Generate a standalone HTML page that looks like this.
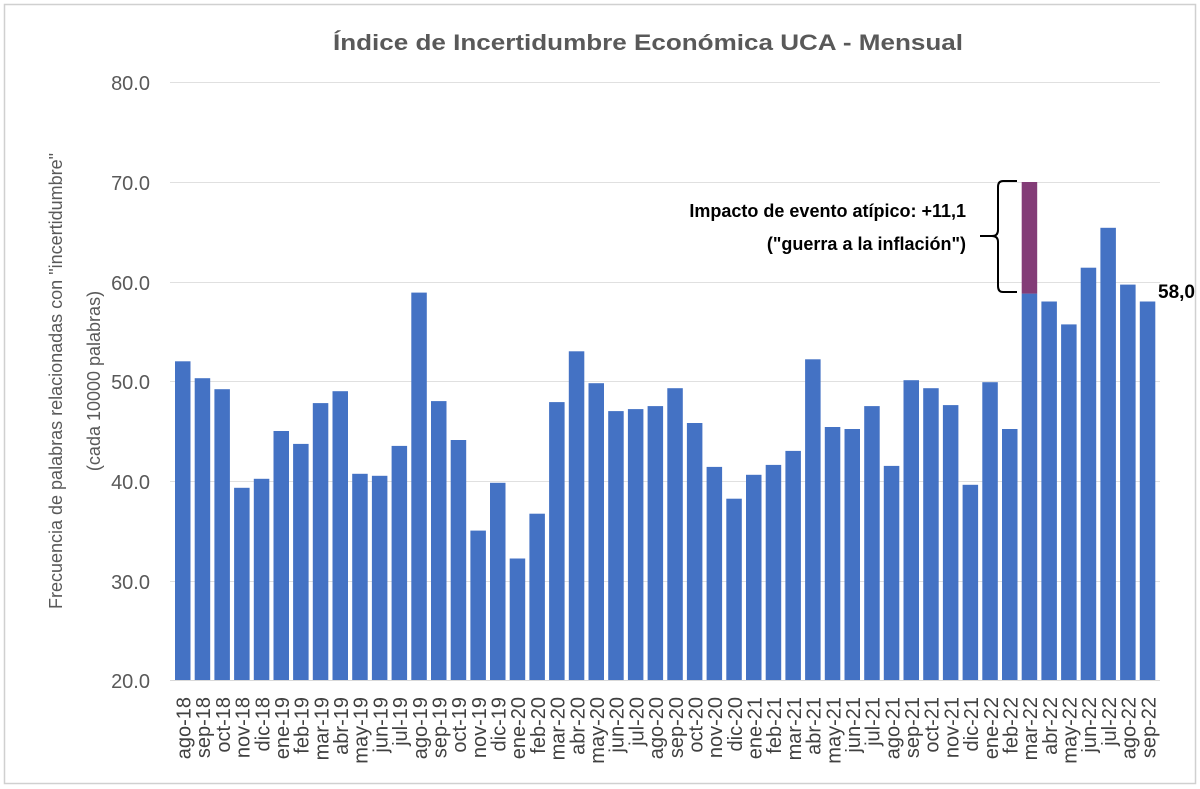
<!DOCTYPE html>
<html><head><meta charset="utf-8"><style>body{margin:0;background:#fff}svg{display:block}</style></head><body>
<svg width="1200" height="789" xmlns="http://www.w3.org/2000/svg" font-family="Liberation Sans, sans-serif">
<rect x="4.5" y="4.5" width="1191" height="779" fill="#fff" stroke="#d0d0d0" stroke-width="1.5"/>
<text x="648" y="50" text-anchor="middle" font-size="22" font-weight="bold" fill="#595959" textLength="630" lengthAdjust="spacingAndGlyphs">Índice de Incertidumbre Económica UCA - Mensual</text>
<g stroke="#e0e0e0" stroke-width="1">
<line x1="170" x2="1160" y1="82.5" y2="82.5"/><line x1="170" x2="1160" y1="182.5" y2="182.5"/><line x1="170" x2="1160" y1="282.5" y2="282.5"/><line x1="170" x2="1160" y1="381.5" y2="381.5"/><line x1="170" x2="1160" y1="481.5" y2="481.5"/><line x1="170" x2="1160" y1="581.5" y2="581.5"/>
</g>
<g font-size="20" fill="#595959" text-anchor="end">
<text x="150" y="90">80.0</text><text x="150" y="190">70.0</text><text x="150" y="290">60.0</text><text x="150" y="389">50.0</text><text x="150" y="489">40.0</text><text x="150" y="589">30.0</text><text x="150" y="688">20.0</text>
</g>
<text transform="translate(62,381) rotate(-90)" text-anchor="middle" font-size="18" fill="#595959">Frecuencia de palabras relacionadas con "incertidumbre"</text>
<text transform="translate(100,381) rotate(-90)" text-anchor="middle" font-size="18" fill="#595959">(cada 10000 palabras)</text>
<g fill="#4472c4">
<rect x="175.0" y="361.3" width="15.5" height="318.7"/>
<rect x="194.7" y="378.2" width="15.5" height="301.8"/>
<rect x="214.4" y="389.2" width="15.5" height="290.8"/>
<rect x="234.1" y="487.8" width="15.5" height="192.2"/>
<rect x="253.8" y="478.8" width="15.5" height="201.2"/>
<rect x="273.5" y="431.0" width="15.5" height="249.0"/>
<rect x="293.1" y="443.9" width="15.5" height="236.1"/>
<rect x="312.8" y="403.1" width="15.5" height="276.9"/>
<rect x="332.5" y="391.2" width="15.5" height="288.8"/>
<rect x="352.2" y="473.8" width="15.5" height="206.2"/>
<rect x="371.9" y="475.8" width="15.5" height="204.2"/>
<rect x="391.6" y="445.9" width="15.5" height="234.1"/>
<rect x="411.3" y="292.6" width="15.5" height="387.4"/>
<rect x="431.0" y="401.1" width="15.5" height="278.9"/>
<rect x="450.7" y="440.0" width="15.5" height="240.0"/>
<rect x="470.4" y="530.6" width="15.5" height="149.4"/>
<rect x="490.0" y="482.8" width="15.5" height="197.2"/>
<rect x="509.7" y="558.5" width="15.5" height="121.5"/>
<rect x="529.4" y="513.7" width="15.5" height="166.3"/>
<rect x="549.1" y="402.1" width="15.5" height="277.9"/>
<rect x="568.8" y="351.3" width="15.5" height="328.7"/>
<rect x="588.5" y="383.2" width="15.5" height="296.8"/>
<rect x="608.2" y="411.1" width="15.5" height="268.9"/>
<rect x="627.9" y="409.1" width="15.5" height="270.9"/>
<rect x="647.6" y="406.1" width="15.5" height="273.9"/>
<rect x="667.3" y="388.2" width="15.5" height="291.8"/>
<rect x="686.9" y="423.0" width="15.5" height="257.0"/>
<rect x="706.6" y="466.9" width="15.5" height="213.1"/>
<rect x="726.3" y="498.7" width="15.5" height="181.3"/>
<rect x="746.0" y="474.8" width="15.5" height="205.2"/>
<rect x="765.7" y="464.9" width="15.5" height="215.1"/>
<rect x="785.4" y="450.9" width="15.5" height="229.1"/>
<rect x="805.1" y="359.3" width="15.5" height="320.7"/>
<rect x="824.8" y="427.0" width="15.5" height="253.0"/>
<rect x="844.5" y="429.0" width="15.5" height="251.0"/>
<rect x="864.2" y="406.1" width="15.5" height="273.9"/>
<rect x="883.8" y="465.9" width="15.5" height="214.1"/>
<rect x="903.5" y="380.2" width="15.5" height="299.8"/>
<rect x="923.2" y="388.2" width="15.5" height="291.8"/>
<rect x="942.9" y="405.1" width="15.5" height="274.9"/>
<rect x="962.6" y="484.8" width="15.5" height="195.2"/>
<rect x="982.3" y="382.2" width="15.5" height="297.8"/>
<rect x="1002.0" y="429.0" width="15.5" height="251.0"/>
<rect x="1021.7" y="293.6" width="15.5" height="386.4"/>
<rect x="1041.4" y="301.5" width="15.5" height="378.5"/>
<rect x="1061.1" y="324.4" width="15.5" height="355.6"/>
<rect x="1080.7" y="267.7" width="15.5" height="412.3"/>
<rect x="1100.4" y="227.8" width="15.5" height="452.2"/>
<rect x="1120.1" y="284.6" width="15.5" height="395.4"/>
<rect x="1139.8" y="301.5" width="15.5" height="378.5"/>
</g>
<rect x="1021.7" y="182" width="15.5" height="111.6" fill="#833c77"/>
<g font-size="20" fill="#404040" text-anchor="end">
<text transform="translate(190.5,697) rotate(-90)">ago-18</text>
<text transform="translate(210.2,697) rotate(-90)">sep-18</text>
<text transform="translate(229.9,697) rotate(-90)">oct-18</text>
<text transform="translate(249.6,697) rotate(-90)">nov-18</text>
<text transform="translate(269.3,697) rotate(-90)">dic-18</text>
<text transform="translate(289.0,697) rotate(-90)">ene-19</text>
<text transform="translate(308.6,697) rotate(-90)">feb-19</text>
<text transform="translate(328.3,697) rotate(-90)">mar-19</text>
<text transform="translate(348.0,697) rotate(-90)">abr-19</text>
<text transform="translate(367.7,697) rotate(-90)">may-19</text>
<text transform="translate(387.4,697) rotate(-90)">jun-19</text>
<text transform="translate(407.1,697) rotate(-90)">jul-19</text>
<text transform="translate(426.8,697) rotate(-90)">ago-19</text>
<text transform="translate(446.5,697) rotate(-90)">sep-19</text>
<text transform="translate(466.2,697) rotate(-90)">oct-19</text>
<text transform="translate(485.9,697) rotate(-90)">nov-19</text>
<text transform="translate(505.5,697) rotate(-90)">dic-19</text>
<text transform="translate(525.2,697) rotate(-90)">ene-20</text>
<text transform="translate(544.9,697) rotate(-90)">feb-20</text>
<text transform="translate(564.6,697) rotate(-90)">mar-20</text>
<text transform="translate(584.3,697) rotate(-90)">abr-20</text>
<text transform="translate(604.0,697) rotate(-90)">may-20</text>
<text transform="translate(623.7,697) rotate(-90)">jun-20</text>
<text transform="translate(643.4,697) rotate(-90)">jul-20</text>
<text transform="translate(663.1,697) rotate(-90)">ago-20</text>
<text transform="translate(682.8,697) rotate(-90)">sep-20</text>
<text transform="translate(702.4,697) rotate(-90)">oct-20</text>
<text transform="translate(722.1,697) rotate(-90)">nov-20</text>
<text transform="translate(741.8,697) rotate(-90)">dic-20</text>
<text transform="translate(761.5,697) rotate(-90)">ene-21</text>
<text transform="translate(781.2,697) rotate(-90)">feb-21</text>
<text transform="translate(800.9,697) rotate(-90)">mar-21</text>
<text transform="translate(820.6,697) rotate(-90)">abr-21</text>
<text transform="translate(840.3,697) rotate(-90)">may-21</text>
<text transform="translate(860.0,697) rotate(-90)">jun-21</text>
<text transform="translate(879.7,697) rotate(-90)">jul-21</text>
<text transform="translate(899.3,697) rotate(-90)">ago-21</text>
<text transform="translate(919.0,697) rotate(-90)">sep-21</text>
<text transform="translate(938.7,697) rotate(-90)">oct-21</text>
<text transform="translate(958.4,697) rotate(-90)">nov-21</text>
<text transform="translate(978.1,697) rotate(-90)">dic-21</text>
<text transform="translate(997.8,697) rotate(-90)">ene-22</text>
<text transform="translate(1017.5,697) rotate(-90)">feb-22</text>
<text transform="translate(1037.2,697) rotate(-90)">mar-22</text>
<text transform="translate(1056.9,697) rotate(-90)">abr-22</text>
<text transform="translate(1076.6,697) rotate(-90)">may-22</text>
<text transform="translate(1096.2,697) rotate(-90)">jun-22</text>
<text transform="translate(1115.9,697) rotate(-90)">jul-22</text>
<text transform="translate(1135.6,697) rotate(-90)">ago-22</text>
<text transform="translate(1155.3,697) rotate(-90)">sep-22</text>
</g>
<line x1="170" x2="1160" y1="680.5" y2="680.5" stroke="#d9d9d9"/>
<text x="966" y="217" text-anchor="end" font-size="18" font-weight="bold" fill="#000">Impacto de evento atípico: +11,1</text>
<text x="966" y="250" text-anchor="end" font-size="18" font-weight="bold" fill="#000">("guerra a la inflación")</text>
<path d="M1017,181 H1003 Q998,181 998,187 V230 Q998,236 992,236 H980 M992,236 Q998,236 998,242 V286 Q998,292 1003,292 H1017" fill="none" stroke="#000" stroke-width="2"/>
<text x="1158" y="298" font-size="19" font-weight="bold" fill="#000">58,0</text>
</svg>
</body></html>
